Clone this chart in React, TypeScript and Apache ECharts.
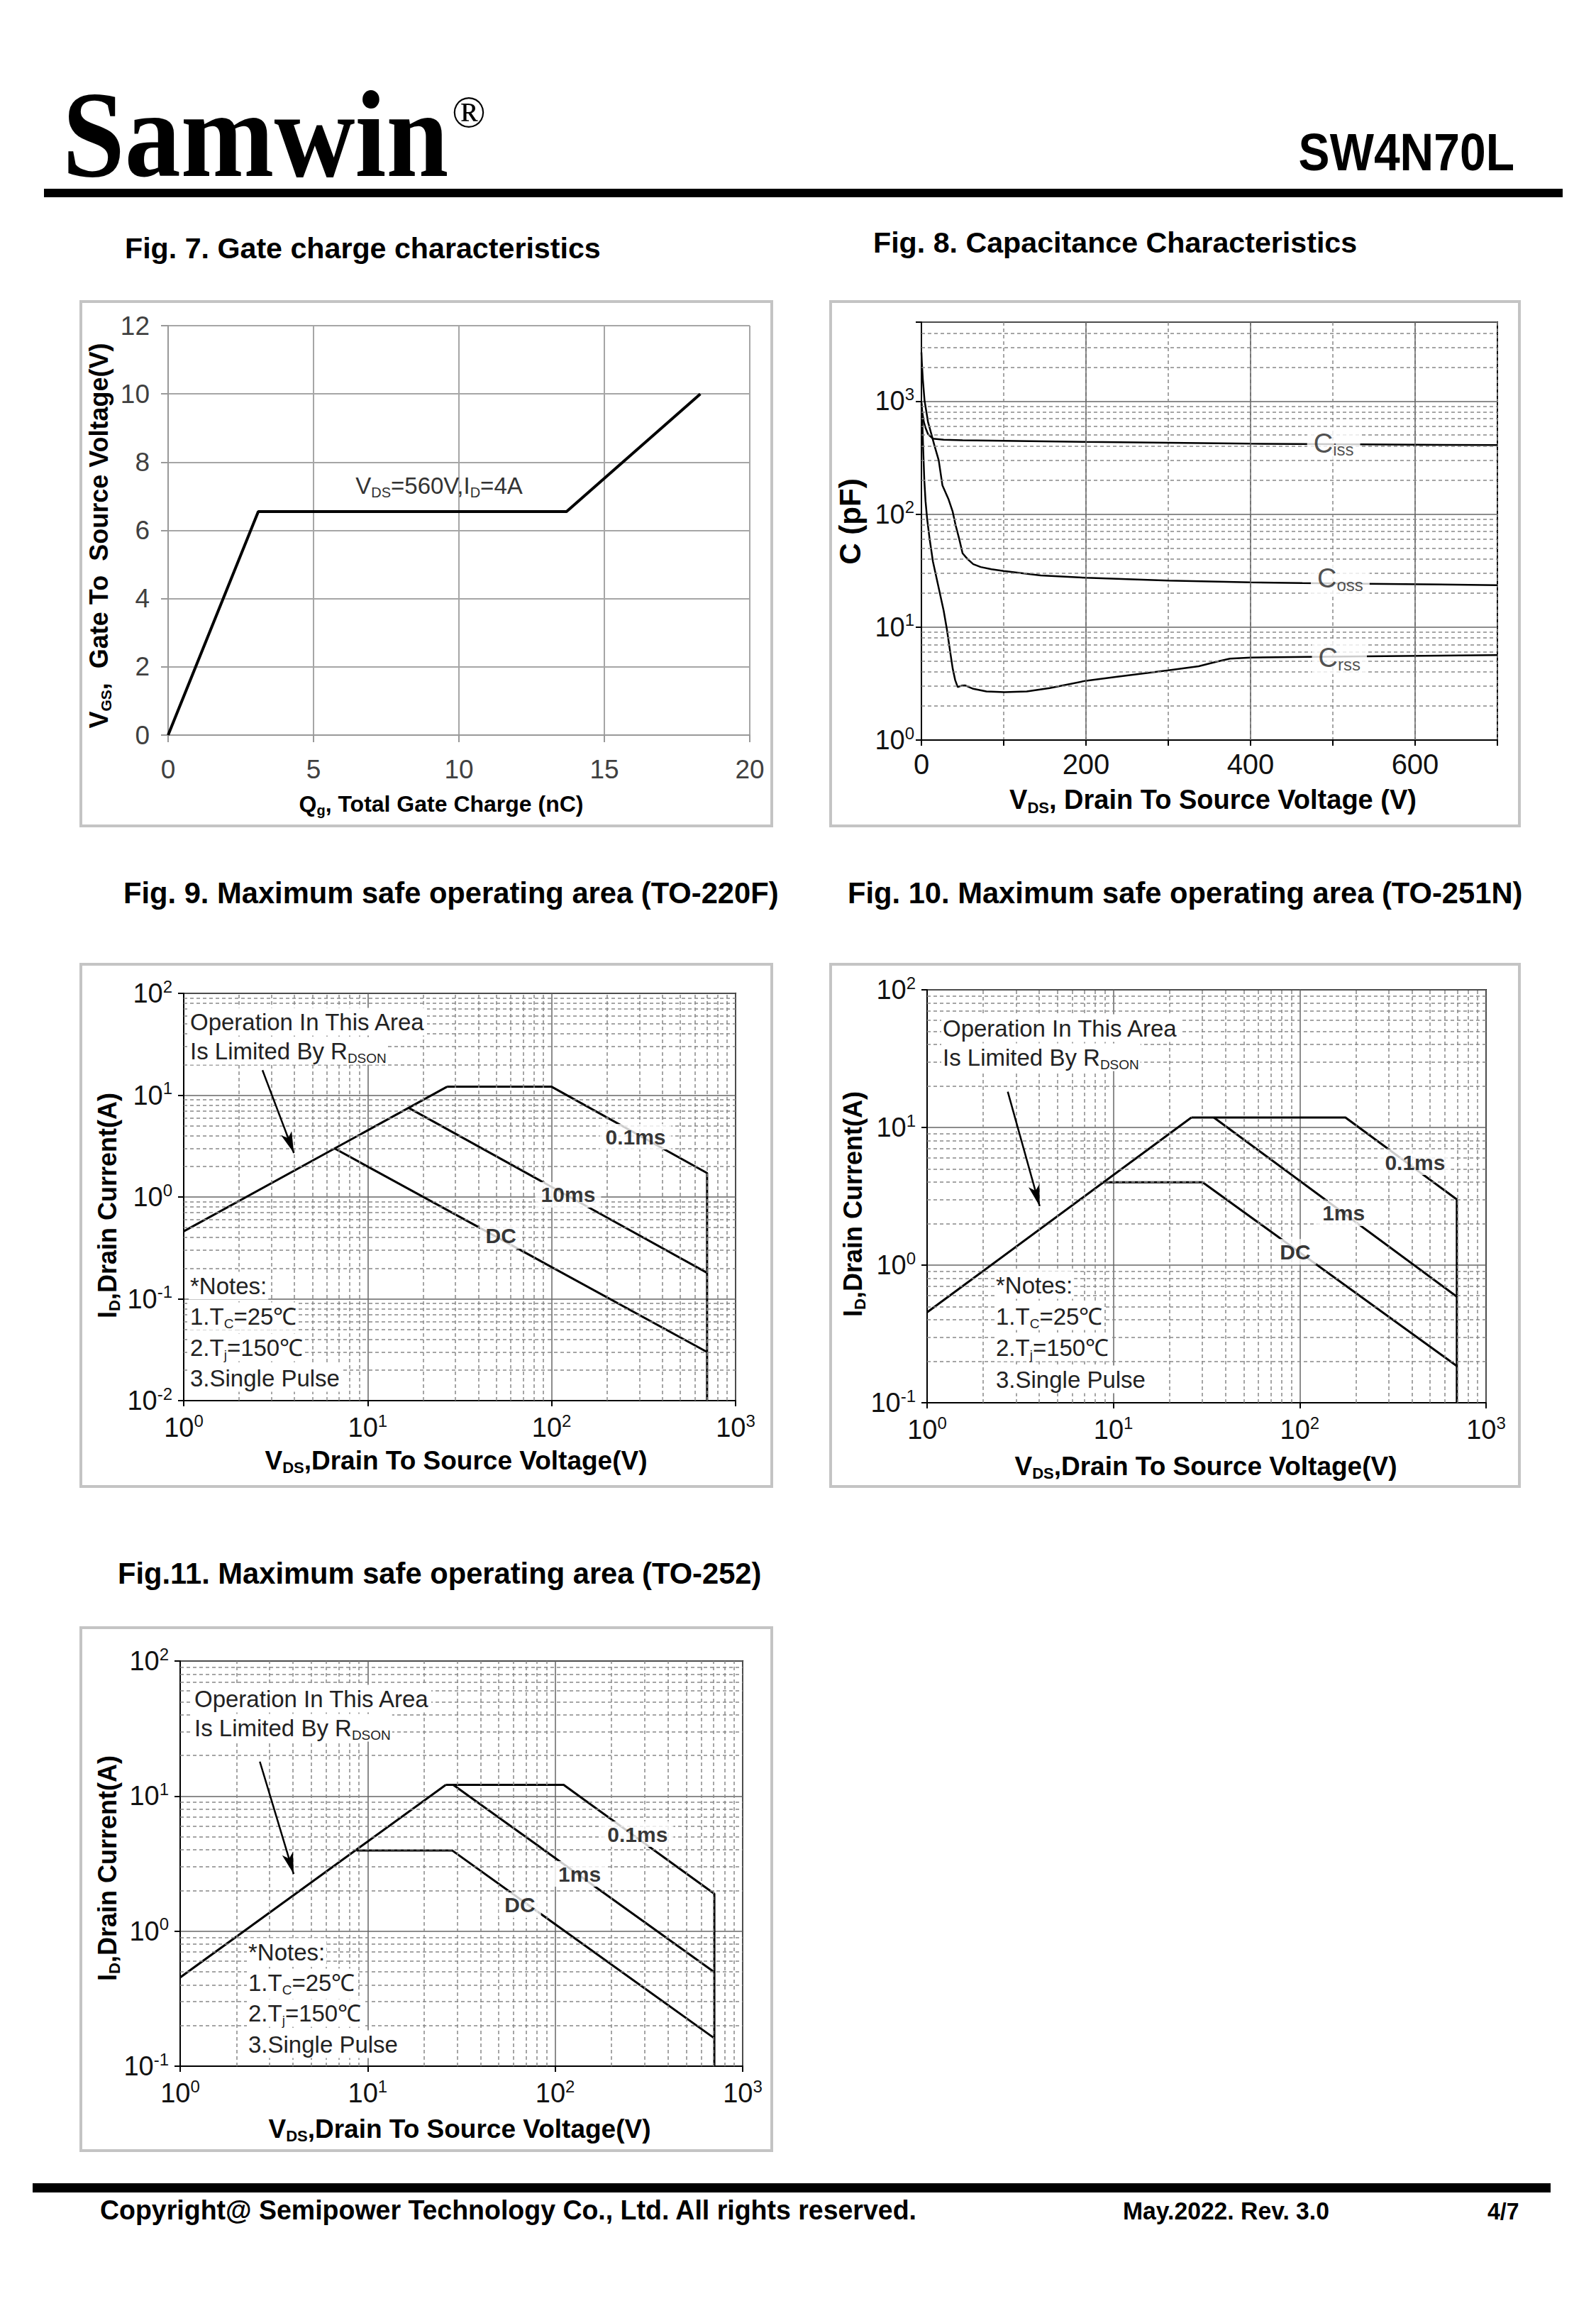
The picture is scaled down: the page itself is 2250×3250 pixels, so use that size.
import React, { useEffect, useRef } from 'react';
import * as echarts from 'echarts';

const SANS = '"Liberation Sans", Arial, Helvetica, sans-serif';
const NARROW = '"Liberation Sans Narrow", "Arial Narrow", "Liberation Sans", sans-serif';
const SERIF = '"Liberation Serif", "Times New Roman", serif';

// ---------- Fig. 7 Gate charge ----------
const gateChargeNC = [0, 3.1, 13.7, 18.3];
const gateVoltageV = [0, 6.55, 6.55, 10];

// ---------- Fig. 8 Capacitance ----------
const cissVds = [0, 1, 3, 5, 8, 14, 27, 50, 100, 200, 300, 400, 500, 600, 700];
const cissPf = [980, 800, 650, 580, 510, 465, 455, 450, 445, 435, 428, 420, 415, 411, 408];
const cossVds = [0, 0.5, 1.7, 3.8, 8, 11, 16, 21, 25.5, 33, 38, 41.5, 46, 50, 56, 63, 72, 85, 100, 145, 200, 300, 400, 463, 540, 700];
const cossPf = [2700, 2200, 1560, 1010, 655, 545, 400, 300, 180, 135, 105, 80, 60, 45, 40, 36, 34, 32.5, 31.3, 28.6, 27.3, 25.8, 24.9, 24.5, 24.2, 23.5];
const crssVds = [0, 1, 2, 3.5, 5, 7, 10, 14, 20, 27, 31, 35, 38, 41, 44, 49, 53, 63, 79, 101, 128, 156, 200, 238, 300, 337, 359, 375, 400, 471, 700];
const crssPf = [950, 700, 400, 200, 130, 90, 60, 38, 24, 14, 9.5, 6, 4.3, 3.4, 2.95, 3.03, 3.05, 2.84, 2.69, 2.65, 2.69, 2.88, 3.35, 3.64, 4.14, 4.5, 4.94, 5.26, 5.37, 5.45, 5.65];
const capLabelSub = ['iss', 'oss', 'rss'];
const capLabelVds = [501, 509, 508];
const capLabelPf = [423, 27, 5.33];

// ---------- Fig. 9 SOA TO-220F ----------
const f9RdsV = [1, 27];
const f9RdsA = [0.46, 12.1];
const f9P01V = [27, 100, 700, 700];
const f9P01A = [12.1, 12.1, 1.72, 0.01];
const f9P10V = [16.7, 700];
const f9P10A = [7.5, 0.18];
const f9DcV = [6.6, 700];
const f9DcA = [3.0, 0.03];
const f9LabelText = ['0.1ms', '10ms', 'DC'];
const f9LabelV = [286, 123, 53];
const f9LabelA = [3.91, 1.05, 0.414];
const f9Arrow = [[2.68, 17.6], [3.97, 2.7]];

// ---------- Fig. 10 SOA TO-251N ----------
const f10RdsV = [1, 26.2];
const f10RdsA = [0.454, 11.8];
const f10P01V = [26.2, 176, 697, 697];
const f10P01A = [11.8, 11.8, 3.0, 0.1];
const f10P1V = [34.6, 697];
const f10P1A = [11.8, 0.59];
const f10DcV = [8.8, 30.1, 697];
const f10DcA = [4.0, 4.0, 0.185];
const f10LabelText = ['0.1ms', '1ms', 'DC'];
const f10LabelV = [416, 172, 94.6];
const f10LabelA = [5.59, 2.38, 1.25];
const f10Arrow = [[2.71, 18.2], [4.02, 2.68]];

// ---------- Fig. 11 SOA TO-252 ----------
const f11RdsV = [1, 26.1];
const f11RdsA = [0.454, 12.1];
const f11P01V = [26.1, 111, 706, 706];
const f11P01A = [12.1, 12.1, 1.89, 0.1];
const f11P1V = [28.6, 706];
const f11P1A = [12.1, 0.497];
const f11DcV = [8.73, 28.2, 706];
const f11DcA = [3.96, 3.96, 0.161];
const f11LabelText = ['0.1ms', '1ms', 'DC'];
const f11LabelV = [275, 135, 64.9];
const f11LabelA = [5.22, 2.65, 1.56];
const f11Arrow = [[2.66, 18], [4.03, 2.65]];

const pairs = (xs: number[], ys: number[]) => xs.map((x, i) => [x, ys[i]]);

function minorLogs(fromExp: number, toExp: number, maxVal = Infinity) {
  const out: number[] = [];
  for (let e = fromExp; e < toExp; e++) {
    for (let m = 2; m <= 9; m++) {
      const v = +(m * Math.pow(10, e)).toPrecision(6);
      if (v < maxVal) out.push(v);
    }
  }
  return out;
}

function supFmt(v: number) {
  const l = Math.log10(v);
  const e = Math.round(l);
  if (Math.abs(l - e) > 1e-6) return '';
  return `{b|10}{s|${e}}`;
}
const supRich = {
  b: { fontSize: 38, fontFamily: SANS, color: '#111', lineHeight: 44 },
  s: { fontSize: 24, fontFamily: SANS, color: '#111', lineHeight: 24, verticalAlign: 'top' },
};

function logAxis(gridIndex: number, min: number, max: number, margin: number) {
  return {
    gridIndex,
    type: 'log',
    logBase: 10,
    min,
    max,
    axisLine: { show: true, lineStyle: { color: '#000', width: 2 } },
    axisTick: { show: true, length: 8, lineStyle: { color: '#000', width: 2 } },
    splitLine: { show: true, lineStyle: { color: '#666', width: 1.5 } },
    axisLabel: { formatter: supFmt, rich: supRich, margin },
  };
}

function gridLines(idx: number, xs: number[], ys: number[], dashed: boolean, color: string) {
  return {
    type: 'line',
    xAxisIndex: idx,
    yAxisIndex: idx,
    data: [],
    z: 1,
    silent: true,
    markLine: {
      silent: true,
      animation: false,
      symbol: ['none', 'none'],
      label: { show: false },
      emphasis: { disabled: true },
      lineStyle: { type: dashed ? [5, 4] : 'solid', color, width: 1.5 },
      data: [...xs.map((v) => ({ xAxis: v })), ...ys.map((v) => ({ yAxis: v }))],
    },
  };
}

function curve(idx: number, xs: number[], ys: number[], width = 3, smooth = false) {
  return {
    type: 'line',
    xAxisIndex: idx,
    yAxisIndex: idx,
    data: pairs(xs, ys),
    symbol: 'none',
    smooth,
    silent: true,
    z: 3,
    lineStyle: { color: '#000', width },
  };
}

function arrow(idx: number, a: number[][]) {
  return {
    type: 'line',
    xAxisIndex: idx,
    yAxisIndex: idx,
    data: [],
    z: 4,
    silent: true,
    markLine: {
      silent: true,
      animation: false,
      symbol: ['none', 'arrow'],
      symbolSize: [12, 30],
      label: { show: false },
      emphasis: { disabled: true },
      lineStyle: { type: 'solid', color: '#000', width: 2.5 },
      data: [[{ coord: a[0] }, { coord: a[1] }]],
    },
  };
}

function labels(idx: number, xs: number[], ys: number[], texts: string[]) {
  return {
    type: 'scatter',
    xAxisIndex: idx,
    yAxisIndex: idx,
    symbolSize: 1,
    z: 6,
    silent: true,
    itemStyle: { color: 'rgba(0,0,0,0)' },
    data: xs.map((x, i) => ({ value: [x, ys[i]], name: texts[i] })),
    label: {
      show: true,
      position: 'inside',
      formatter: (p: any) => p.name,
      fontFamily: SANS,
      fontWeight: 'bold',
      fontSize: 30,
      color: '#000',
      backgroundColor: '#fff',
      padding: [3, 8],
    },
  };
}

function text(x: number, y: number, t: string, o: any = {}) {
  return {
    type: 'text',
    x,
    y,
    rotation: o.rot || 0,
    scaleX: o.sx || 1,
    scaleY: o.sy || 1,
    silent: true,
    z: o.z ?? 100,
    style: {
      text: t,
      fontFamily: o.family || SANS,
      fontSize: o.size || 30,
      fontWeight: o.weight || 'normal',
      fill: o.color || '#000',
      align: o.align || 'left',
      verticalAlign: o.valign || 'middle',
      rich: o.rich,
      backgroundColor: o.bg,
      padding: o.pad,
    },
  };
}

function subRich(size: number, weight: string, color = '#000', subSize?: number) {
  const ss = subSize || Math.round(size * 0.6);
  return {
    a: { fontSize: size, fontFamily: SANS, fontWeight: weight, fill: color, lineHeight: size + 6 },
    b: { fontSize: ss, fontFamily: SANS, fontWeight: weight, fill: color, lineHeight: ss + 8, verticalAlign: 'bottom' },
  };
}

function frame(x: number, y: number, w: number, h: number) {
  return {
    type: 'rect',
    silent: true,
    z: 0,
    shape: { x, y, width: w, height: h },
    style: { fill: 'none', stroke: '#c4c4c4', lineWidth: 4 },
  };
}

function soaTexts(opX: number, opY: number, noteX: number, noteYs: number[]) {
  const r = subRich(33, 'normal', '#222', 19);
  return [
    text(opX, opY, '{a|Operation In This Area}', { rich: r, bg: '#fff', pad: [0, 2] }),
    text(opX, opY + 41, '{a|Is Limited By R}{b|DSON}', { rich: r, bg: '#fff', pad: [0, 2] }),
    text(noteX, noteYs[0], '{a|*Notes:}', { rich: r, bg: '#fff', pad: [0, 2] }),
    text(noteX, noteYs[1], '{a|1.T}{b|C}{a|=25℃}', { rich: r, bg: '#fff', pad: [0, 2] }),
    text(noteX, noteYs[2], '{a|2.T}{b|j}{a|=150℃}', { rich: r, bg: '#fff', pad: [0, 2] }),
    text(noteX, noteYs[3], '{a|3.Single Pulse}', { rich: r, bg: '#fff', pad: [0, 2] }),
  ];
}

function buildOption() {
  const titleA = { size: 41.2, weight: 'bold' };
  const titleB = { size: 41.7, weight: 'bold' };
  const vdsRich = subRich(37, 'bold', '#000', 22);
  const graphic: any[] = [
    // header
    text(88, 189, 'Samwin', { family: SERIF, size: 158, weight: 'bold', sy: 1.1 }),
    text(637, 158, '®', { family: SERIF, size: 63 }),
    text(2135, 215, 'SW4N70L', { size: 66, weight: 'bold', align: 'right', sy: 1.12 }),
    { type: 'rect', silent: true, shape: { x: 62, y: 266, width: 2141, height: 12 }, style: { fill: '#000' } },
    // titles
    text(176, 350, 'Fig. 7. Gate charge characteristics', titleA),
    text(1231, 342, 'Fig. 8. Capacitance Characteristics', titleA),
    text(174, 1258, 'Fig. 9. Maximum safe operating area (TO-220F)', titleB),
    text(1195, 1258, 'Fig. 10. Maximum safe operating area (TO-251N)', titleB),
    text(166, 2217, 'Fig.11. Maximum safe operating area (TO-252)', titleB),
    // frames
    frame(114, 425, 974, 739),
    frame(1171, 425, 971, 739),
    frame(114, 1359, 974, 736),
    frame(1171, 1359, 971, 736),
    frame(114, 2294, 974, 737),
    // Fig 7 texts
    text(139, 755, '{a|V}{b|GS}{a|,  Gate To  Source Voltage(V)}', { rot: Math.PI / 2, align: 'center', rich: subRich(36, 'bold', '#000', 21) }),
    text(622, 1133, '{a|Q}{b|g}{a|, Total Gate Charge (nC)}', { align: 'center', rich: subRich(32, 'bold', '#000', 20) }),
    text(619, 684, '{a|V}{b|DS}{a|=560V,I}{b|D}{a|=4A}', { align: 'center', rich: subRich(33, 'normal', '#333', 20) }),
    // Fig 8 texts
    text(1198, 735, 'C (pF)', { rot: Math.PI / 2, align: 'center', size: 42, weight: 'bold' }),
    text(1710, 1127, '{a|V}{b|DS}{a|, Drain To Source Voltage (V)}', { align: 'center', rich: subRich(38, 'bold', '#000', 22) }),
    // Fig 9 texts
    text(151, 1699, '{a|I}{b|D}{a|,Drain Current(A)}', { rot: Math.PI / 2, align: 'center', rich: subRich(36, 'bold', '#000', 22) }),
    text(643, 2058, '{a|V}{b|DS}{a|,Drain To Source Voltage(V)}', { align: 'center', rich: vdsRich }),
    ...soaTexts(266, 1440, 266, [1812, 1855, 1899, 1942]),
    // Fig 10 texts
    text(1202, 1697, '{a|I}{b|D}{a|,Drain Current(A)}', { rot: Math.PI / 2, align: 'center', rich: subRich(36, 'bold', '#000', 22) }),
    text(1700, 2066, '{a|V}{b|DS}{a|,Drain To Source Voltage(V)}', { align: 'center', rich: vdsRich }),
    ...soaTexts(1327, 1449, 1402, [1811, 1855, 1899, 1944]),
    // Fig 11 texts
    text(151, 2633, '{a|I}{b|D}{a|,Drain Current(A)}', { rot: Math.PI / 2, align: 'center', rich: subRich(36, 'bold', '#000', 22) }),
    text(648, 3000, '{a|V}{b|DS}{a|,Drain To Source Voltage(V)}', { align: 'center', rich: vdsRich }),
    ...soaTexts(272, 2394, 348, [2751, 2794, 2837, 2881]),
    // footer
    { type: 'rect', silent: true, shape: { x: 46, y: 3077, width: 2140, height: 13 }, style: { fill: '#000' } },
    text(141, 3114, 'Copyright@ Semipower Technology Co., Ltd. All rights reserved.', { size: 37.5, weight: 'bold', sy: 1.05 }),
    text(1583, 3116, 'May.2022. Rev. 3.0', { size: 33.7, weight: 'bold', sy: 1.05 }),
    text(2097, 3116, '4/7', { size: 32, weight: 'bold', sy: 1.05 }),
  ];

  const grid = [
    { left: 237, top: 459, width: 820, height: 577 },
    { left: 1299, top: 454, width: 812, height: 589, show: true, borderColor: '#000', borderWidth: 2, backgroundColor: 'transparent' },
    { left: 259, top: 1400, width: 778, height: 574, show: true, borderColor: '#000', borderWidth: 2, backgroundColor: 'transparent' },
    { left: 1307, top: 1395, width: 788, height: 582, show: true, borderColor: '#000', borderWidth: 2, backgroundColor: 'transparent' },
    { left: 254, top: 2341, width: 793, height: 571, show: true, borderColor: '#000', borderWidth: 2, backgroundColor: 'transparent' },
  ];

  const xAxis = [
    {
      gridIndex: 0, type: 'value', min: 0, max: 20, interval: 5,
      axisLine: { show: true, lineStyle: { color: '#999', width: 2 } },
      axisTick: { show: true, length: 10, lineStyle: { color: '#999', width: 2 } },
      splitLine: { show: true, lineStyle: { color: '#a6a6a6', width: 2 } },
      axisLabel: { fontFamily: NARROW, fontSize: 37, color: '#404040', margin: 30 },
    },
    {
      gridIndex: 1, type: 'value', min: 0, max: 700, interval: 100,
      axisLine: { show: true, lineStyle: { color: '#000', width: 2 } },
      axisTick: { show: true, length: 8, lineStyle: { color: '#000', width: 2 } },
      splitLine: { show: true, lineStyle: { color: '#888', width: 1.5, type: [5, 4] } },
      axisLabel: { formatter: (v: number) => (v % 200 === 0 && v < 700 ? String(v) : ''), fontFamily: SANS, fontSize: 40, color: '#111', margin: 14 },
    },
    logAxis(2, 1, 1000, 16),
    logAxis(3, 1, 1000, 16),
    logAxis(4, 1, 1000, 16),
  ];
  const yAxis = [
    {
      gridIndex: 0, type: 'value', min: 0, max: 12, interval: 2,
      axisLine: { show: true, lineStyle: { color: '#999', width: 2 } },
      axisTick: { show: true, length: 10, lineStyle: { color: '#999', width: 2 } },
      splitLine: { show: true, lineStyle: { color: '#a6a6a6', width: 2 } },
      axisLabel: { fontFamily: NARROW, fontSize: 37, color: '#404040', margin: 26 },
    },
    logAxis(1, 1, 5000, 10),
    logAxis(2, 0.01, 100, 16),
    logAxis(3, 0.1, 100, 16),
    logAxis(4, 0.1, 100, 16),
  ];

  const capLabelSeries = {
    type: 'scatter',
    xAxisIndex: 1,
    yAxisIndex: 1,
    symbolSize: 1,
    z: 6,
    silent: true,
    itemStyle: { color: 'rgba(0,0,0,0)' },
    data: capLabelVds.map((x, i) => ({ value: [x, capLabelPf[i]], name: capLabelSub[i] })),
    label: {
      show: true,
      position: 'inside',
      formatter: (p: any) => `{c|C}{s|${p.name}}`,
      backgroundColor: '#fff',
      padding: [2, 9],
      rich: {
        c: { fontFamily: SANS, fontSize: 38, color: '#222', lineHeight: 42 },
        s: { fontFamily: SANS, fontSize: 24, color: '#222', lineHeight: 30, verticalAlign: 'bottom' },
      },
    },
  };

  const series: any[] = [
    // Fig 7
    curve(0, gateChargeNC, gateVoltageV, 4),
    // Fig 8
    gridLines(1, [200, 400, 600], [], false, '#666'),
    gridLines(1, [], minorLogs(0, 4, 5000), true, '#888'),
    curve(1, cissVds, cissPf, 2.5),
    curve(1, cossVds, cossPf, 2.5),
    curve(1, crssVds, crssPf, 2.5),
    capLabelSeries,
    // Fig 9
    gridLines(2, minorLogs(0, 3), minorLogs(-2, 2), true, '#888'),
    curve(2, f9RdsV, f9RdsA),
    curve(2, f9P01V, f9P01A),
    curve(2, f9P10V, f9P10A),
    curve(2, f9DcV, f9DcA),
    arrow(2, f9Arrow),
    labels(2, f9LabelV, f9LabelA, f9LabelText),
    // Fig 10
    gridLines(3, minorLogs(0, 3), minorLogs(-1, 2), true, '#888'),
    curve(3, f10RdsV, f10RdsA),
    curve(3, f10P01V, f10P01A),
    curve(3, f10P1V, f10P1A),
    curve(3, f10DcV, f10DcA),
    arrow(3, f10Arrow),
    labels(3, f10LabelV, f10LabelA, f10LabelText),
    // Fig 11
    gridLines(4, minorLogs(0, 3), minorLogs(-1, 2), true, '#888'),
    curve(4, f11RdsV, f11RdsA),
    curve(4, f11P01V, f11P01A),
    curve(4, f11P1V, f11P1A),
    curve(4, f11DcV, f11DcA),
    arrow(4, f11Arrow),
    labels(4, f11LabelV, f11LabelA, f11LabelText),
  ];

  return {
    animation: false,
    backgroundColor: '#fff',
    grid,
    xAxis,
    yAxis,
    series,
    graphic,
  };
}

export default function App() {
  const ref = useRef<HTMLDivElement>(null);
  useEffect(() => {
    if (!ref.current) return;
    const chart = echarts.init(ref.current, undefined, { renderer: 'svg' });
    chart.setOption(buildOption() as any);
    return () => chart.dispose();
  }, []);
  return (
    <div
      ref={ref}
      style={{ position: 'absolute', left: 0, top: 0, width: 2250, height: 3250, background: '#fff' }}
    />
  );
}
